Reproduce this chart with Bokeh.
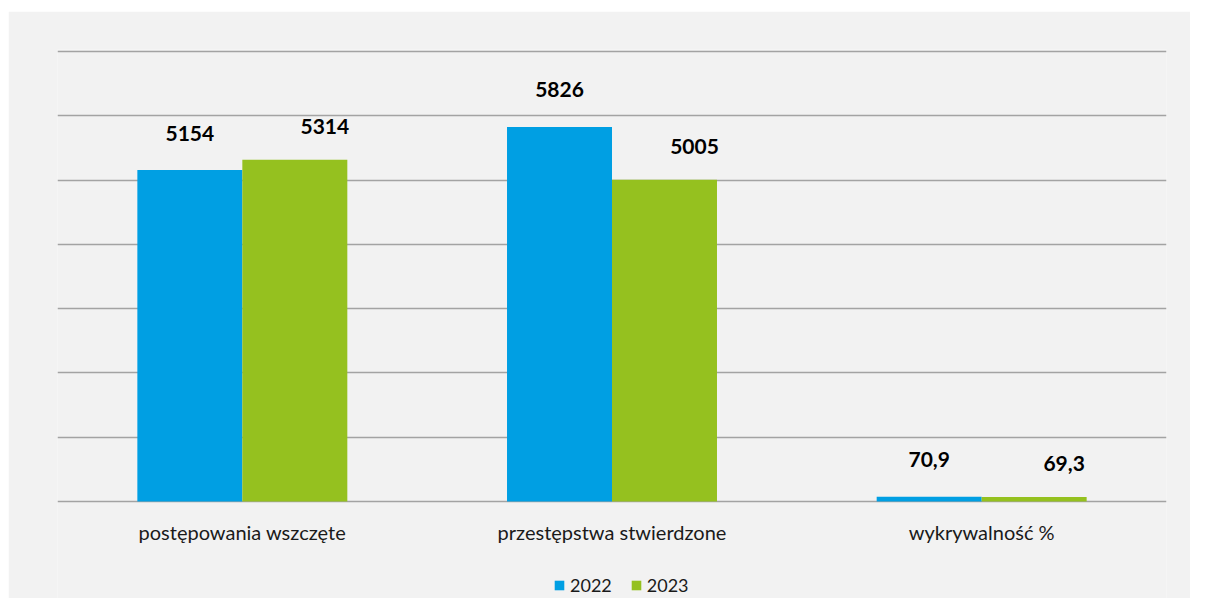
from bokeh.plotting import figure
from bokeh.models import ColumnDataSource, Range1d, FixedTicker, Legend, LegendItem
from bokeh.transform import dodge
from bokeh.core.properties import value
from bokeh.embed import file_html
from bokeh.resources import INLINE

categories = ["postępowania wszczęte", "przestępstwa stwierdzone", "wykrywalność %"]
series_names = ["2022", "2023"]
values_2022 = [5154, 5826, 70.9]
values_2023 = [5314, 5005, 69.3]
y_ticks = [0, 1000, 2000, 3000, 4000, 5000, 6000, 7000]

BLUE = "#009fe3"
GREEN = "#95c11f"
BG = "#f2f2f2"
GRID = "#a3a3a3"


def fmt(v):
    if float(v).is_integer():
        return str(int(v))
    return ("%.1f" % v).replace(".", ",")


src = ColumnDataSource(dict(
    cat=categories,
    base=[0] * len(categories),
    v22=values_2022,
    v23=values_2023,
    l22=[fmt(v) for v in values_2022],
    l23=[fmt(v) for v in values_2023],
))

# frame extends to the bottom of the figure so that category labels and the
# legend (drawn below the zero line) are not clipped
p = figure(x_range=categories, y_range=Range1d(-1510, 7030), width=1182, height=587,
           output_backend="svg", toolbar_location=None,
           min_border_left=49, min_border_right=24, min_border_top=38, min_border_bottom=0)
p.margin = (11, 0, 0, 8)
p.background_fill_color = BG
p.border_fill_color = BG
p.outline_line_color = None

bw = 0.284
r22 = p.vbar(x=dodge("cat", -bw / 2, range=p.x_range), top="v22", width=bw, source=src,
             fill_color=BLUE, line_color=None)
r23 = p.vbar(x=dodge("cat", bw / 2, range=p.x_range), top="v23", width=bw, source=src,
             fill_color=GREEN, line_color=None)

p.text(x=dodge("cat", -bw / 2, range=p.x_range), y="v22", text="l22", source=src,
       text_font=value("Lato"), text_font_style="bold", text_font_size="21px",
       text_color="#000000", text_align="center", text_baseline="middle", y_offset=-37)
p.text(x=dodge("cat", bw / 2, range=p.x_range), y="v23", text="l23", source=src,
       text_font=value("Lato"), text_font_style="bold", text_font_size="21px",
       text_color="#000000", text_align="center", text_baseline="middle",
       x_offset=30, y_offset=-33)

# category labels under the baseline
p.text(x="cat", y="base", text="cat", source=src,
       text_font=value("Lato"), text_font_size="20px", text_color="#1a1a1a",
       text_align="center", text_baseline="middle", y_offset=31)

p.xaxis.visible = False
p.yaxis.visible = False
p.yaxis.ticker = FixedTicker(ticks=y_ticks)
p.ygrid.grid_line_color = GRID
p.ygrid.grid_line_width = 1.3
p.xgrid.grid_line_color = None

legend = Legend(items=[LegendItem(label=series_names[0], renderers=[r22]),
                       LegendItem(label=series_names[1], renderers=[r23])],
                orientation="horizontal", location=(496, 2),
                background_fill_alpha=0, border_line_color=None,
                padding=0, margin=0, spacing=18, label_standoff=5,
                glyph_width=12, glyph_height=12,
                label_text_font="Lato", label_text_font_size="18px",
                label_text_color="#1a1a1a")
p.add_layout(legend, "center")

open("out.html", "w").write(file_html(p, INLINE))
